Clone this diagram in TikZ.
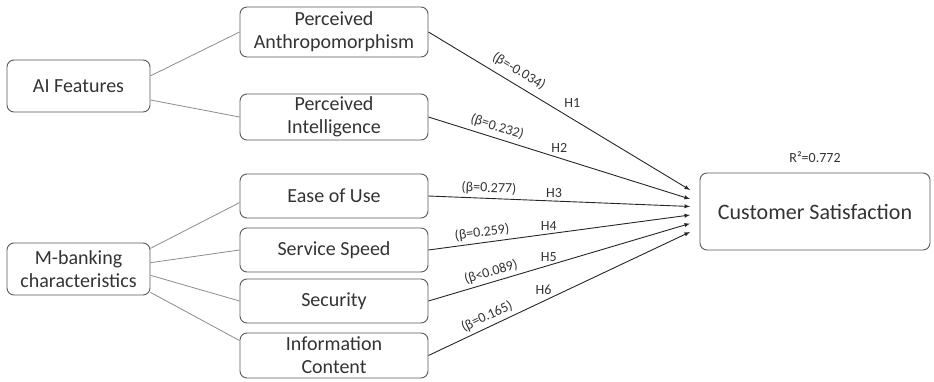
\documentclass[tikz,border=0pt]{standalone}
\usepackage{fontspec}
\setmainfont{Carlito}
\begin{document}
\begin{tikzpicture}[x=1pt,y=-1pt,>=latex,
    box/.style={draw=black!65,line width=0.9pt,rounded corners=7pt,align=center,
      inner sep=0pt,font=\fontsize{20}{23}\selectfont,text=black!80},
    link/.style={draw=black!45,line width=0.8pt},
    hyp/.style={->,draw=black!85,line width=0.9pt},
    coef/.style={font=\fontsize{14}{16}\selectfont,text=black!80,sloped,above},
    hlab/.style={font=\fontsize{14}{16}\selectfont,text=black!80,above}]
    \useasboundingbox (0,0) rectangle (934,382);
    % constructs
    \node[box,minimum width=143,minimum height=52] (ai) at (78.5,86) {AI Features};
    \node[box,minimum width=143,minimum height=52] (mb) at (78.5,269) {M-banking\\characteristics};
    \node[box,minimum width=188,minimum height=50] (pa) at (334,32) {Perceived\\Anthropomorphism};
    \node[box,minimum width=188,minimum height=46] (pi) at (334,117) {Perceived\\Intelligence};
    \node[box,minimum width=188,minimum height=44] (eu) at (334,196) {Ease of Use};
    \node[box,minimum width=188,minimum height=44] (ss) at (334,250) {Service Speed};
    \node[box,minimum width=188,minimum height=44] (se) at (334,301) {Security};
    \node[box,minimum width=188,minimum height=45] (ic) at (334,355.5) {Information\\Content};
    \node[box,minimum width=230,minimum height=77,font=\fontsize{22}{25}\selectfont] (cs) at (815,211.5) {Customer Satisfaction};
    \node[font=\fontsize{14}{16}\selectfont,text=black!80] (r2) at (815,157) {R²=0.772};
    % arrow tips in front of the outcome
    \coordinate (t1) at (690,190);
    \coordinate (t2) at (690,199);
    \coordinate (t3) at (690,206.5);
    \coordinate (t4) at (690,215);
    \coordinate (t5) at (690,223.5);
    \coordinate (t6) at (690,232);
    % dimensions
    \draw[link] (ai.8) -- (pa.west);
    \draw[link] (ai.-11) -- (pi.west);
    \draw[link] (mb.16) -- (eu.184);
    \draw[link] (mb.5) -- (ss.west);
    \draw[link] (mb.-5) -- (se.west);
    \draw[link] (mb.-18) -- (ic.171);
    % hypotheses
    \draw[hyp] (pa.east) -- node[coef,pos=0.32,above=3pt]{(β=-0.034)} node[hlab,pos=0.55,above=8pt]{H1} (t1);
    \draw[hyp] (pi.east) -- node[coef,pos=0.25,above=1pt]{(β=0.232)} node[hlab,pos=0.5,above=2pt]{H2} (t2);
    \draw[hyp] (eu.east) -- node[coef,pos=0.23]{(β=0.277)} node[hlab,pos=0.48]{H3} (t3);
    \draw[hyp] (ss.east) -- node[coef,pos=0.21]{(β=0.259)} node[hlab,pos=0.46]{H4} (t4);
    \draw[hyp] (se.east) -- node[coef,pos=0.25]{(β<0.089)} node[hlab,pos=0.46]{H5} (t5);
    \draw[hyp] (ic.east) -- node[coef,pos=0.24]{(β=0.165)} node[hlab,pos=0.44,above=3pt]{H6} (t6);
\end{tikzpicture}
\end{document}
